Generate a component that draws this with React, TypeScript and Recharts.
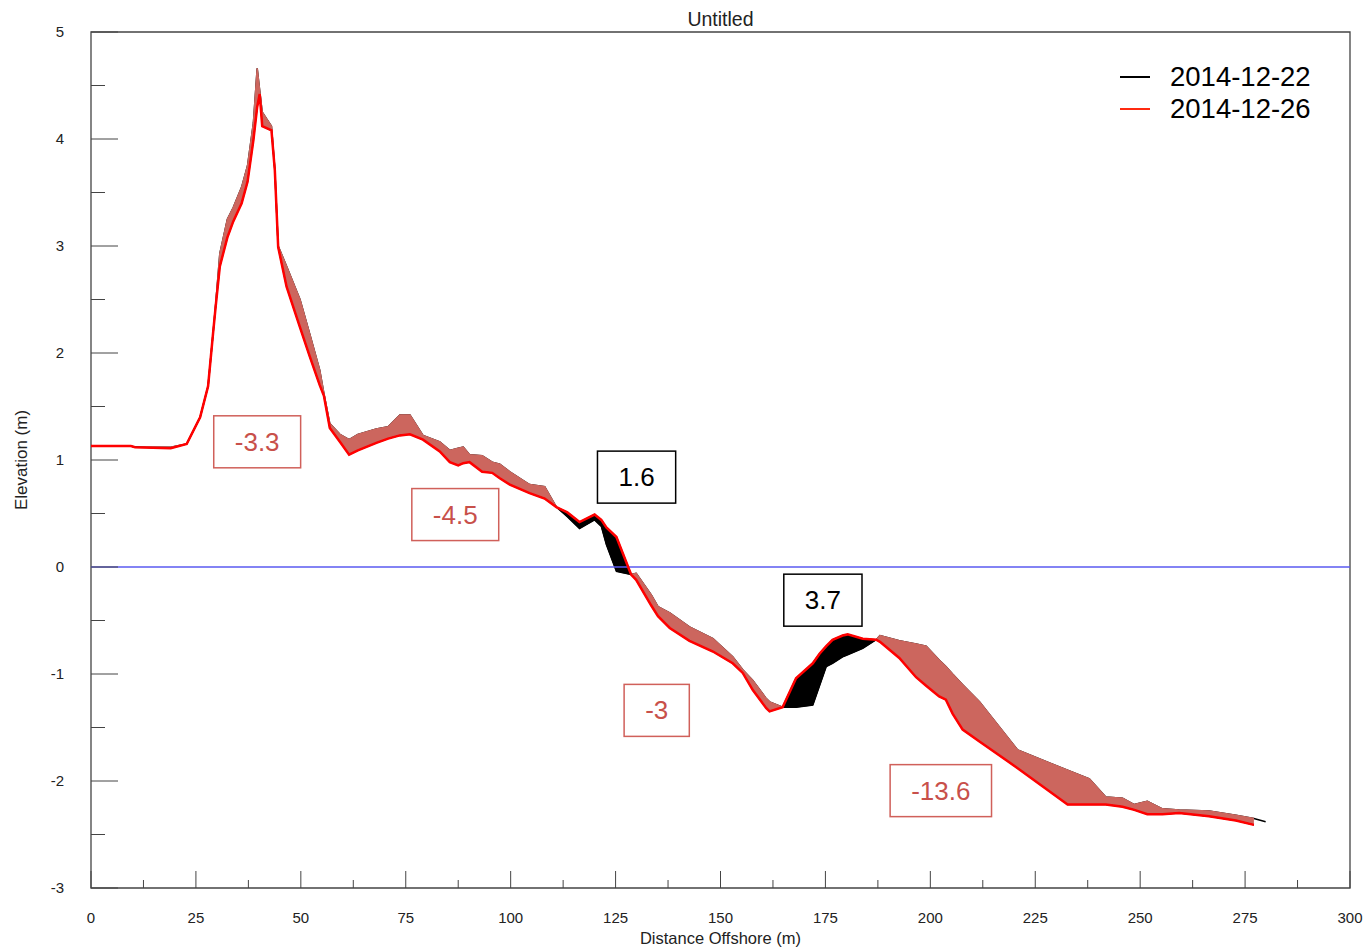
import { ComposedChart, Line, Area, XAxis, YAxis, ReferenceLine, ReferenceArea, ReferenceDot, Legend } from "recharts";

// profile stations (m offshore) and the two surveys
const distance = [
  0, 9.5, 10.5, 19.0, 22.8, 26.0, 27.9, 29.1, 29.7, 30.7, 32.5, 33.9, 35.9, 37.3, 38.7, 39.6, 40.2, 40.8, 43.0, 43.8,
  44.6, 46.6, 49.8, 52.1, 54.5, 55.5, 56.9, 59.3, 61.5, 63.6, 68.0, 70.8, 73.6, 76.0, 79.1, 83.1, 85.5, 87.5, 88.7, 90.2,
  93.2, 95.6, 97.4, 99.8, 104.5, 108.1, 110.9, 113.5, 116.4, 120.0, 121.6, 122.8, 125.2, 128.7, 129.9, 133.5, 135.1, 137.9, 142.6, 148.2,
  152.9, 155.3, 157.7, 160.9, 161.7, 164.8, 168.0, 172.0, 173.6, 175.2, 176.7, 179.1, 180.3, 183.9, 187.1, 188.0, 192.6, 196.6, 199.0, 202.1,
  203.7, 205.3, 207.7, 211.7, 220.8, 232.7, 237.9, 241.8, 245.8, 248.6, 251.7, 255.3, 259.3, 266.4, 272.8, 277.1, 279.9,
];
const elev1222 = [
  1.13, 1.13, 1.12, 1.12, 1.15, 1.40, 1.69, 2.19, 2.45, 2.93, 3.25, 3.36, 3.55, 3.75, 4.15, 4.66, 4.45, 4.25, 4.12, 3.72,
  3.00, 2.81, 2.50, 2.18, 1.84, 1.62, 1.34, 1.24, 1.19, 1.24, 1.29, 1.31, 1.42, 1.42, 1.23, 1.17, 1.09, 1.11, 1.12, 1.05,
  1.04, 0.98, 0.96, 0.89, 0.77, 0.75, 0.56, 0.47, 0.36, 0.44, 0.38, 0.21, -0.04, -0.07, -0.06, -0.26, -0.37, -0.43, -0.56, -0.67,
  -0.84, -0.96, -1.06, -1.23, -1.26, -1.31, -1.31, -1.29, -1.11, -0.93, -0.90, -0.84, -0.82, -0.76, -0.68, -0.64, -0.69, -0.72, -0.74, -0.87,
  -0.93, -1.00, -1.10, -1.26, -1.71, -1.90, -1.98, -2.15, -2.16, -2.22, -2.19, -2.26, -2.27, -2.28, -2.32, -2.35, -2.38,
];
const elev1226 = [
  1.13, 1.13, 1.12, 1.11, 1.15, 1.40, 1.69, 2.19, 2.43, 2.81, 3.08, 3.23, 3.40, 3.60, 3.99, 4.30, 4.42, 4.12, 4.08, 3.71,
  2.99, 2.62, 2.24, 1.97, 1.70, 1.60, 1.30, 1.17, 1.05, 1.09, 1.16, 1.20, 1.23, 1.24, 1.19, 1.08, 0.98, 0.95, 0.97, 0.98,
  0.89, 0.88, 0.83, 0.77, 0.69, 0.64, 0.56, 0.51, 0.42, 0.49, 0.44, 0.37, 0.28, -0.07, -0.12, -0.36, -0.46, -0.57, -0.69, -0.79,
  -0.90, -0.99, -1.15, -1.32, -1.35, -1.31, -1.04, -0.90, -0.81, -0.74, -0.68, -0.64, -0.63, -0.67, -0.68, -0.70, -0.85, -1.03, -1.11, -1.21,
  -1.24, -1.37, -1.52, -1.63, -1.88, -2.22, -2.22, -2.22, -2.24, -2.27, -2.31, -2.31, -2.30, -2.33, -2.37, -2.41, null,
];

const xTicks = [0, 12.5, 25, 37.5, 50, 62.5, 75, 87.5, 100, 112.5, 125, 137.5, 150, 162.5, 175, 187.5, 200, 212.5, 225, 237.5, 250, 262.5, 275, 287.5, 300];
const yTicks = [-3, -2.5, -2, -1.5, -1, -0.5, 0, 0.5, 1, 1.5, 2, 2.5, 3, 3.5, 4, 4.5, 5];

// volume change labels
const volumeText = ["-3.3", "-4.5", "1.6", "3.7", "-3", "-13.6"];
const volumeX = [39.6, 86.8, 130.0, 174.4, 134.8, 202.5];
const volumeY = [1.17, 0.49, 0.84, -0.31, -1.34, -2.09];

const FONT = '"Liberation Sans", Arial, sans-serif';
const BROWN = "#CC665E";
const FRAME = "#444";

const rows = distance.map((d, i) => ({ d, a: elev1222[i], b: elev1226[i] }));
const bandRows = rows.filter((r) => r.b != null);

const charW = (c: string) => (c === "-" ? 8.7 : c === "." ? 7.2 : 14.5);

const VolumeBox = ({ cx, cy, text }: any) => {
  const loss = text.startsWith("-");
  const w = text.split("").reduce((s: number, c: string) => s + charW(c), 0) + 42;
  const col = loss ? "#D0605A" : "#000";
  return (
    <g>
      <rect x={cx - w / 2} y={cy - 26} width={w} height={52} fill="#fff" stroke={col} strokeWidth={1.5} />
      <text x={cx} y={cy + 9} textAnchor="middle" fontFamily={FONT} fontSize={26} fill={loss ? "#C8504A" : "#000"}>
        {text}
      </text>
    </g>
  );
};

const YTick = ({ x, y, payload }: any) => {
  const v = payload.value;
  const major = Number.isInteger(v);
  return (
    <g>
      <line x1={x} x2={x + (major ? 27 : 14)} y1={y} y2={y} stroke={FRAME} />
      {major && (
        <text x={x - 27} y={y + 5} textAnchor="end" fontFamily={FONT} fontSize={15} fill="#222">
          {v}
        </text>
      )}
    </g>
  );
};

const XTick = ({ x, y, payload }: any) => {
  const v = payload.value;
  const major = v % 25 === 0;
  return (
    <g>
      <line x1={x} x2={x} y1={y} y2={y - (major ? 17 : 8)} stroke={FRAME} />
      {major && (
        <text x={x} y={y + 35} textAnchor="middle" fontFamily={FONT} fontSize={15} fill="#222">
          {v}
        </text>
      )}
    </g>
  );
};

const XTitle = ({ viewBox }: any) => (
  <text x={viewBox.x + viewBox.width / 2} y={viewBox.y + 56} textAnchor="middle" fontFamily={FONT} fontSize={16.5} fill="#222">
    Distance Offshore (m)
  </text>
);

const YTitle = ({ viewBox }: any) => {
  const cx = viewBox.x + 21;
  const cy = viewBox.y + viewBox.height / 2;
  return (
    <text x={cx} y={cy} transform={`rotate(-90 ${cx} ${cy})`} textAnchor="middle" dominantBaseline="central" fontFamily={FONT} fontSize={17} fill="#222">
      Elevation (m)
    </text>
  );
};

const series = [
  { name: "2014-12-22", color: "#000" },
  { name: "2014-12-26", color: "#FF2A10" },
];

const LegendBox = () => (
  <div style={{ fontFamily: FONT, fontSize: 27.5, color: "#000" }}>
    {series.map((s) => (
      <div key={s.name} style={{ display: "flex", alignItems: "center", height: 32 }}>
        <span style={{ display: "inline-block", width: 30, borderTop: `2px solid ${s.color}`, marginRight: 20 }} />
        {s.name}
      </div>
    ))}
  </div>
);

export default function App() {
  return (
    <div style={{ position: "absolute", left: 0, top: 0, width: 1367, height: 948, background: "#fff" }}>
      <div style={{ position: "absolute", left: 91, top: 8, width: 1259, textAlign: "center", fontFamily: FONT, fontSize: 19.5, lineHeight: "22px", color: "#222" }}>
        Untitled
      </div>
      <ComposedChart width={1367} height={948} data={rows} margin={{ top: 32, right: 17, bottom: 0, left: 0 }}>
        <XAxis
          dataKey="d"
          type="number"
          domain={[0, 300]}
          ticks={xTicks}
          interval={0}
          height={60}
          tickSize={0}
          tickMargin={0}
          axisLine={false}
          tickLine={false}
          tick={<XTick />}
          label={{ content: <XTitle /> }}
        />
        <YAxis
          type="number"
          domain={[-3, 5]}
          ticks={yTicks}
          interval={0}
          width={91}
          tickSize={0}
          tickMargin={0}
          axisLine={false}
          tickLine={false}
          tick={<YTick />}
          label={{ content: <YTitle /> }}
        />
        <ReferenceLine y={0} stroke="#5A5AF0" strokeWidth={1.3} />
        {/* 12-22 survey drawn as an unfilled area so the change bands sit over it */}
        <Area
          dataKey="a"
          name="2014-12-22"
          type="linear"
          fill="none"
          stroke="#000"
          strokeWidth={1.5}
          isAnimationActive={false}
        />
        <Area
          data={bandRows}
          dataKey={(r: any) => (r.a > r.b ? [r.b, r.a] : [r.b, r.b])}
          type="linear"
          fill={BROWN}
          fillOpacity={1}
          stroke={BROWN}
          strokeWidth={1.5}
          isAnimationActive={false}
          legendType="none"
        />
        <Area
          data={bandRows}
          dataKey={(r: any) => (r.b > r.a ? [r.a, r.b] : [r.b, r.b])}
          type="linear"
          fill="#000"
          fillOpacity={1}
          stroke="#000"
          strokeWidth={1}
          isAnimationActive={false}
          legendType="none"
        />
        <Line dataKey="b" name="2014-12-26" stroke="#FF0000" strokeWidth={2.5} dot={false} isAnimationActive={false} />
        <ReferenceArea x1={0} x2={300} y1={-3} y2={5} fill="none" stroke={FRAME} strokeWidth={1.3} />
        {volumeText.map((t, i) => (
          <ReferenceDot key={t} x={volumeX[i]} y={volumeY[i]} r={0} shape={(p: any) => <VolumeBox cx={p.cx} cy={p.cy} text={t} />} />
        ))}
        <Legend
          layout="vertical"
          align="center"
          verticalAlign="middle"
          content={<LegendBox />}
          wrapperStyle={{ top: 61, left: 1120, width: 220 }}
        />
      </ComposedChart>
    </div>
  );
}
